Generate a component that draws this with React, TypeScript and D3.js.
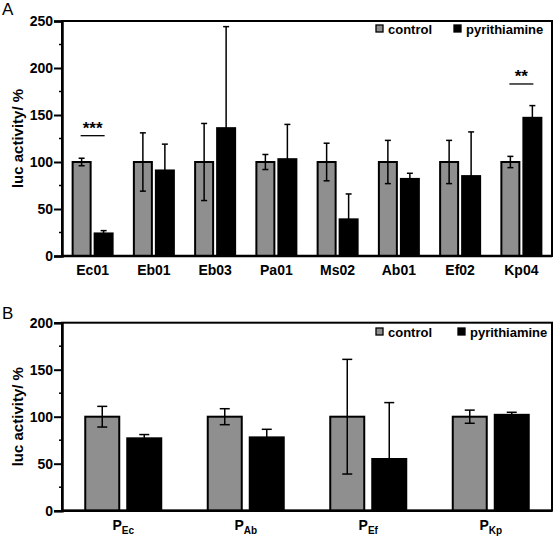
import React, { useEffect, useRef } from 'react';
import * as d3 from 'd3';

// panel A data
const categoriesA = ['Ec01', 'Eb01', 'Eb03', 'Pa01', 'Ms02', 'Ab01', 'Ef02', 'Kp04'];
const controlA = [100, 100, 100, 100, 100, 100, 100, 100];
const controlSdA = [4, 31, 41, 8, 20, 23, 23, 6];
const pyrA = [24, 91, 136, 103, 39, 82, 85, 147];
const pyrSdA = [3, 28, 108, 37, 27, 6, 47, 13];
const ticksA = [0, 50, 100, 150, 200, 250];
const sigA = [
    { cat: 'Ec01', label: '***', value: 128 },
    { cat: 'Kp04', label: '**', value: 183 },
];

// panel B data
const categoriesB = [['P', 'Ec'], ['P', 'Ab'], ['P', 'Ef'], ['P', 'Kp']];
const controlB = [100, 100, 100, 100];
const controlSdB = [11, 8.5, 61, 7];
const pyrB = [77, 78, 55, 102];
const pyrSdB = [4, 8.6, 60, 2.7];
const ticksB = [0, 50, 100, 150, 200];

const W = 554;
const H = 537;
const FONT = '"Liberation Sans", Arial, sans-serif';
const GREY = '#8f8f8f';

const drawPanel = (svg, opts) => {
    const { top, bottom, max, ticks, cats, control, controlSd, pyr, pyrSd, barW, offset, cap, letter, letterY, legendY, legendX2 } = opts;
    const left = 62, right = 552;
    const g = svg.append('g');

    const x = d3.scaleBand().domain(d3.range(cats.length)).range([left, right]).padding(0);
    const y = d3.scaleLinear().domain([0, max]).range([bottom, top]);

    // frame
    g.append('rect')
        .attr('x', left).attr('y', top)
        .attr('width', right - left).attr('height', bottom - top)
        .attr('fill', 'none').attr('stroke', '#000').attr('stroke-width', 2);

    const series = [
        { vals: control, sd: controlSd, fill: GREY, dx: -offset },
        { vals: pyr, sd: pyrSd, fill: '#000', dx: offset },
    ];

    series.forEach(s => {
        s.vals.forEach((v, i) => {
            const cx = x(i) + x.bandwidth() / 2 + s.dx;
            g.append('rect')
                .attr('x', cx - barW / 2).attr('y', y(v))
                .attr('width', barW).attr('height', y(0) - y(v))
                .attr('fill', s.fill).attr('stroke', '#000').attr('stroke-width', 2);
            const hi = y(v + s.sd[i]);
            const lo = y(Math.max(0, v - s.sd[i]));
            g.append('line').attr('x1', cx).attr('x2', cx).attr('y1', hi).attr('y2', lo)
                .attr('stroke', '#000').attr('stroke-width', 1.5);
            [hi, lo].forEach(yy => {
                g.append('line').attr('x1', cx - cap / 2).attr('x2', cx + cap / 2).attr('y1', yy).attr('y2', yy)
                    .attr('stroke', '#000').attr('stroke-width', 1.5);
            });
        });
    });

    // axes
    const yAxis = d3.axisLeft(y).tickValues(ticks).tickSize(8).tickPadding(1);
    const ya = g.append('g').attr('transform', `translate(${left},0)`).call(yAxis);
    ya.select('.domain').attr('stroke-width', 2.5);
    ya.selectAll('.tick line').attr('stroke-width', 2);
    ya.selectAll('text').style('font-family', FONT).style('font-size', '14px').style('font-weight', 'bold').attr('fill', '#000');

    const minor = d3.range(25, max, 50);
    g.selectAll(null).data(minor).join('line')
        .attr('x1', left - 3).attr('x2', left).attr('y1', d => y(d)).attr('y2', d => y(d))
        .attr('stroke', '#000').attr('stroke-width', 1.5);

    g.append('line').attr('x1', left).attr('x2', right).attr('y1', bottom).attr('y2', bottom)
        .attr('stroke', '#000').attr('stroke-width', 2.5);

    // x labels
    cats.forEach((c, i) => {
        const cx = x(i) + x.bandwidth() / 2;
        const t = g.append('text').attr('x', cx).attr('y', bottom + 19)
            .attr('text-anchor', 'middle')
            .style('font-family', FONT).style('font-size', '14px').style('font-weight', 'bold');
        if (Array.isArray(c)) {
            t.append('tspan').text(c[0]);
            t.append('tspan').attr('dy', 4).style('font-size', '10px').text(c[1]);
        } else {
            t.text(c);
        }
    });

    // y label
    g.append('text')
        .attr('transform', `translate(23,${(top + bottom) / 2}) rotate(-90)`)
        .attr('text-anchor', 'middle')
        .style('font-family', FONT).style('font-size', '15px').style('font-weight', 'bold')
        .text('luc activity/ %');

    // panel letter
    g.append('text').attr('x', 2).attr('y', letterY)
        .style('font-family', FONT).style('font-size', '17px')
        .text(letter);

    // legend
    const items = [
        { label: 'control', fill: GREY, x: 376 },
        { label: 'pyrithiamine', fill: '#000', x: legendX2 },
    ];
    items.forEach(it => {
        g.append('rect').attr('x', it.x).attr('y', legendY - 9).attr('width', 7).attr('height', 7)
            .attr('fill', it.fill).attr('stroke', '#000').attr('stroke-width', 1.3);
        g.append('text').attr('x', it.x + 12).attr('y', legendY)
            .style('font-family', FONT).style('font-size', '13px').style('font-weight', 'bold')
            .text(it.label);
    });

    return { x, y, g };
};

const App = () => {
    const ref = useRef(null);

    useEffect(() => {
        if (!ref.current) return;
        const svg = d3.select(ref.current);
        svg.selectAll('*').remove();

        svg.append('rect').attr('width', W).attr('height', H).attr('fill', '#fff');

        const a = drawPanel(svg, {
            top: 21, bottom: 256, max: 250, ticks: ticksA,
            cats: categoriesA, control: controlA, controlSd: controlSdA, pyr: pyrA, pyrSd: pyrSdA,
            barW: 18, offset: 11, cap: 6, letter: 'A', letterY: 15, legendY: 34, legendX2: 454,
        });

        // significance marks
        sigA.forEach(s => {
            const i = categoriesA.indexOf(s.cat);
            const cx = a.x(i) + a.x.bandwidth() / 2;
            const yy = a.y(s.value);
            a.g.append('line').attr('x1', cx - 12).attr('x2', cx + 12).attr('y1', yy).attr('y2', yy)
                .attr('stroke', '#000').attr('stroke-width', 1.3);
            a.g.append('text').attr('x', cx).attr('y', yy - 2).attr('text-anchor', 'middle')
                .style('font-family', FONT).style('font-size', '17px').style('font-weight', 'bold')
                .text(s.label);
        });

        drawPanel(svg, {
            top: 322.7, bottom: 510.7, max: 200, ticks: ticksB,
            cats: categoriesB, control: controlB, controlSd: controlSdB, pyr: pyrB, pyrSd: pyrSdB,
            barW: 34, offset: 21, cap: 10, letter: 'B', letterY: 319, legendY: 337, legendX2: 458,
        });
    }, []);

    return (
        <svg ref={ref} width={W} height={H} style={{ position: 'absolute', left: 0, top: 0 }}></svg>
    );
};

export default App;
